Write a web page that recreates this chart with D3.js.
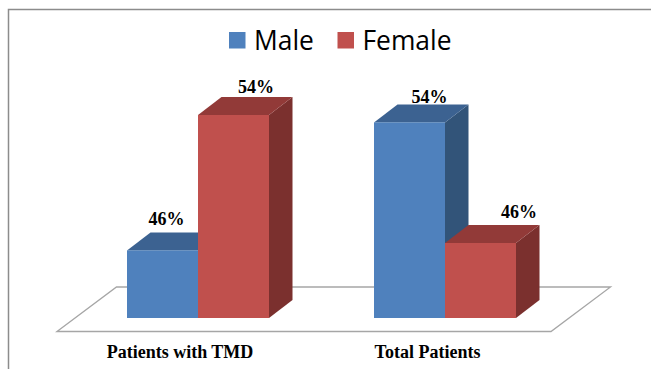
<!DOCTYPE html>
<html>
<head>
<meta charset="utf-8">
<script src="https://cdn.jsdelivr.net/npm/d3@7/dist/d3.min.js"></script>
<style>
  html, body { margin: 0; padding: 0; background: #fff; }
  svg { display: block; }
</style>
</head>
<body>
<div id="container"></div>
<script>
var categories = ['Patients with TMD', 'Total Patients'];
var seriesNames = ['Male', 'Female'];
// bar heights as drawn (the picture has no axis), and the labels printed on them
var maleValues = [16.9, 48.9];
var femaleValues = [50.75, 18.75];
var maleLabels = ['46%', '54%'];
var femaleLabels = ['54%', '46%'];

var width = 651, height = 369;
var depthX = 23.5, depthY = 18;
var baseY = 318;

var colors = {
  Male: {front: '#4f81bd', top: '#3c6291', side: '#325479'},
  Female: {front: '#c0504d', top: '#923a38', side: '#7b302e'}
};

// the labels were placed by hand in the original, so each has its own nudge
var maleNudge = [[4, 25], [20, 19.5]];
var femaleNudge = [[22.5, 22], [38.5, 25]];

var svg = d3.select('#container').append('svg')
  .attr('width', width)
  .attr('height', height);

var x = d3.scalePoint().domain(categories).range([198, 445]);
var y = d3.scaleLinear().domain([0, 100]).range([baseY, baseY - 400]);
var barWidth = 71;

// chart frame, open at the bottom and right like the cropped original
svg.append('path')
  .attr('d', 'M8.5,369V9.5H651')
  .attr('fill', 'none')
  .attr('stroke', '#8c8c8c')
  .attr('stroke-width', 1.5);

// floor
svg.append('path')
  .attr('d', 'M57,331.5L116.5,287H610.5L551,331.5Z')
  .attr('fill', '#fff')
  .attr('stroke', '#a6a6a6')
  .attr('stroke-width', 1.3);

var rows = [];
categories.forEach(function(c, i) {
  rows.push({cat: c, name: 'Male', value: maleValues[i], label: maleLabels[i], x0: x(c) - barWidth, nudge: maleNudge[i]});
  rows.push({cat: c, name: 'Female', value: femaleValues[i], label: femaleLabels[i], x0: x(c), nudge: femaleNudge[i]});
});

var bar = svg.selectAll('g.bar').data(rows).enter().append('g').attr('class', 'bar');

bar.append('path')
  .attr('fill', function(d) { return colors[d.name].side; })
  .attr('d', function(d) {
    var r = d.x0 + barWidth, t = y(d.value);
    return 'M' + r + ',' + t + 'l' + depthX + ',' + (-depthY) + 'V' + (baseY - depthY) + 'L' + r + ',' + baseY + 'Z';
  });

bar.append('path')
  .attr('fill', function(d) { return colors[d.name].top; })
  .attr('d', function(d) {
    var t = y(d.value);
    return 'M' + d.x0 + ',' + t + 'l' + depthX + ',' + (-depthY) + 'h' + barWidth + 'l' + (-depthX) + ',' + depthY + 'Z';
  });

bar.append('rect')
  .attr('fill', function(d) { return colors[d.name].front; })
  .attr('x', function(d) { return d.x0; })
  .attr('y', function(d) { return y(d.value); })
  .attr('width', barWidth)
  .attr('height', function(d) { return baseY - y(d.value); });

// drawn after every bar so the 46% on the short bar stays on top
svg.selectAll('text.value').data(rows).enter().append('text')
  .attr('class', 'value')
  .attr('x', function(d) { return d.x0 + barWidth / 2 + d.nudge[0]; })
  .attr('y', function(d) { return y(d.value) - d.nudge[1]; })
  .attr('text-anchor', 'middle')
  .style('font', 'bold 18px "Liberation Serif"')
  .attr('fill', '#000')
  .text(function(d) { return d.label; });

// category labels
svg.selectAll('text.cat').data(categories).enter().append('text')
  .attr('class', 'cat')
  .attr('x', function(d) { return d === categories[0] ? 180 : 427.5; })
  .attr('y', 358)
  .attr('text-anchor', 'middle')
  .style('font', 'bold 18px "Liberation Serif"')
  .attr('fill', '#000')
  .text(function(d) { return d; });

// legend
var legendX = d3.scaleOrdinal().domain(seriesNames).range([229, 337.5]);
var legend = svg.selectAll('g.legend').data(seriesNames).enter().append('g')
  .attr('class', 'legend')
  .attr('transform', function(d) { return 'translate(' + legendX(d) + ',32)'; });

legend.append('rect')
  .attr('width', 16.5)
  .attr('height', 16.5)
  .attr('fill', function(d) { return colors[d].front; });

legend.append('text')
  .attr('x', 25)
  .attr('y', 18)
  .style('font', '26.4px "Open Sans"')
  .attr('fill', '#000')
  .text(function(d) { return d; });
</script>
</body>
</html>
